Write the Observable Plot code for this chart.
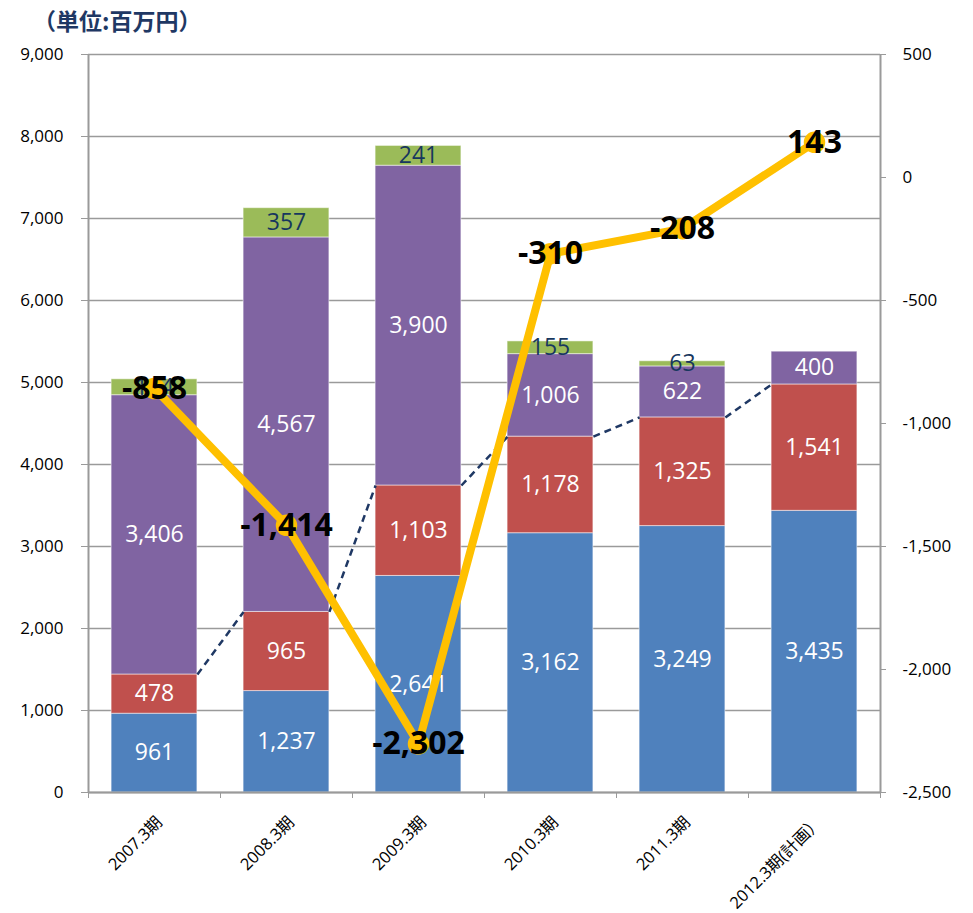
<!DOCTYPE html>
<html>
<head>
<meta charset="utf-8">
<script src="https://cdn.jsdelivr.net/npm/d3@7"></script>
<script src="https://cdn.jsdelivr.net/npm/@observablehq/plot@0.6"></script>
<style>
  html, body { margin: 0; padding: 0; background: #fff; }
  #wrap { position: relative; width: 973px; height: 913px; }
  #title { position: absolute; left: 33px; top: 3px; font-family: "Noto Sans CJK JP", sans-serif; font-weight: bold; font-size: 23px; color: #1F3864; }
</style>
</head>
<body>
<div id="wrap"><div id="title">（単位:百万円）</div></div>
<script>
// ---- data ----
const categories = ["2007.3期", "2008.3期", "2009.3期", "2010.3期", "2011.3期", "2012.3期(計画）"];
const blueValues   = [961, 1237, 2641, 3162, 3249, 3435];
const redValues    = [478, 965, 1103, 1178, 1325, 1541];
const purpleValues = [3406, 4567, 3900, 1006, 622, 400];
const greenValues  = [194, 357, 241, 155, 63, 0];
const profitValues = [-858, -1414, -2302, -310, -208, 143];
const leftTicks  = [0, 1000, 2000, 3000, 4000, 5000, 6000, 7000, 8000, 9000];
const rightTicks = [-2500, -2000, -1500, -1000, -500, 0, 500];

// ---- styling ----
const seriesList = [
  {values: blueValues,   color: "#4F81BD", label: "#FFFFFF"},
  {values: redValues,    color: "#C0504D", label: "#FFFFFF"},
  {values: purpleValues, color: "#8064A2", label: "#FFFFFF"},
  {values: greenValues,  color: "#9BBB59", label: "#17375E"}
];
const half = 0.325; // half bar width in category units
const fmt = v => (v < 0 ? "-" : "") + d3.format(",")(Math.abs(v));
// secondary axis mapping: right [-2500, 500] -> left [0, 9000]
const rightToLeft = v => (v + 2500) * 3;
const leftToRight = v => v / 3 - 2500;

const segments = [];
categories.forEach((c, i) => {
  let base = 0;
  seriesList.forEach((s, k) => {
    const v = s.values[i];
    segments.push({i, k, value: v, y1: base, y2: base + v, color: s.color, labelColor: s.label});
    base += v;
  });
});
const redTops = categories.map((c, i) => blueValues[i] + redValues[i]);
const connectors = categories.slice(0, -1).map((c, i) => ({i, a: redTops[i], b: redTops[i + 1]}));
const profit = categories.map((c, i) => ({i, v: profitValues[i]}));
const boundaries = d3.range(-0.5, categories.length, 1);

const gray = "#9A9A9A";
const font = "'Open Sans', 'Noto Sans CJK JP', sans-serif";

const chart = Plot.plot({
  width: 973,
  height: 913,
  marginLeft: 88,
  marginRight: 93,
  marginTop: 54,
  marginBottom: 121,
  style: {fontFamily: font, fontSize: "17px", color: "#000", background: "transparent"},
  x: {type: "linear", domain: [-0.5, categories.length - 0.5], axis: null},
  y: {domain: [0, 9000], axis: null},
  color: {type: "identity"},
  marks: [
    Plot.ruleY(leftTicks, {x1: -0.5, x2: categories.length - 0.5, stroke: gray, strokeWidth: 1.6}),
    Plot.rect(segments.filter(d => d.value > 0), {
      x1: d => d.i - half, x2: d => d.i + half, y1: "y1", y2: "y2",
      fill: "color", stroke: "#ffffff", strokeOpacity: 0.5, strokeWidth: 1
    }),
    Plot.ruleX([-0.5, categories.length - 0.5], {y1: 0, y2: 9000, stroke: gray, strokeWidth: 2}),
    Plot.ruleY([0], {x1: -0.5, x2: categories.length - 0.5, stroke: gray, strokeWidth: 2}),
    Plot.axisY({anchor: "left", label: null, ticks: leftTicks, tickSize: 7, tickPadding: 18, stroke: gray, fill: "#000", fontSize: 17, tickFormat: d3.format(",")}),
    Plot.axisY({anchor: "right", label: null, ticks: rightTicks.map(rightToLeft), tickSize: 5, tickPadding: 17, stroke: gray, fill: "#000", fontSize: 17, tickFormat: d => fmt(leftToRight(d))}),
    Plot.axisX({label: null, ticks: boundaries, tickSize: 6, stroke: gray, tickFormat: () => ""}),
    Plot.text(categories, {
      x: (d, i) => i, frameAnchor: "bottom", dy: 27, dx: 5,
      rotate: -45, textAnchor: "end", lineAnchor: "middle",
      text: d => d, fontSize: 16.5, fill: "#000"
    }),
    Plot.link(connectors, {
      x1: d => d.i + half, y1: "a", x2: d => d.i + 1 - half, y2: "b",
      stroke: "#1F3864", strokeWidth: 2.5, strokeDasharray: "7,5"
    }),
    Plot.text(segments.filter(d => d.value > 0), {
      x: "i", y: d => (d.y1 + d.y2) / 2, text: d => fmt(d.value),
      fill: "labelColor", fontSize: 23
    }),
    Plot.line(profit, {x: "i", y: d => rightToLeft(d.v), stroke: "#FFC000", strokeWidth: 8, strokeLinejoin: "round"}),
    Plot.dot(profit, {x: "i", y: d => rightToLeft(d.v), r: 10, fill: "#FFC000", stroke: "#FFC000"}),
    Plot.text(profit, {
      x: "i", y: d => rightToLeft(d.v), text: d => fmt(d.v),
      fontSize: 32, fontWeight: "bold", fill: "#000"
    })
  ]
});
document.getElementById("wrap").prepend(chart);
</script>
</body>
</html>
